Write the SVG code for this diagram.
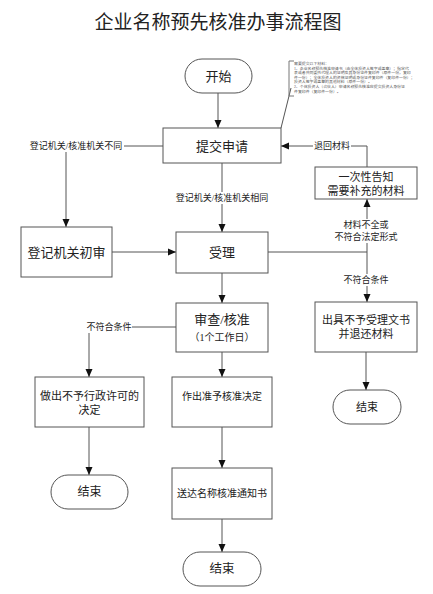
<svg xmlns="http://www.w3.org/2000/svg" width="433" height="594" viewBox="0 0 433 594">
<style>
text{font-family:"Liberation Serif","Noto Sans CJK SC",serif;fill:#222;text-anchor:middle;dominant-baseline:central}
.box{fill:#fff;stroke:#555;stroke-width:1}
.ln{fill:none;stroke:#555;stroke-width:1}
.arr{marker-end:url(#ah)}
.lbl{font-size:9px}
.bg{fill:#fff}
.note{font-size:3.9px;text-anchor:start;fill:#555}
</style>
<defs>
<marker id="ah" markerUnits="userSpaceOnUse" markerWidth="8" markerHeight="8" refX="8" refY="4" orient="auto">
<path d="M0,0.5 L8,4 L0,7.5 z" fill="#111"/>
</marker>
</defs>
<rect width="433" height="594" fill="#fff"/>
<text x="218" y="20" style="font-family:'Noto Sans CJK SC',sans-serif;font-size:19px">企业名称预先核准办事流程图</text>

<g id="connectors">
<path class="ln arr" d="M218,93 V128"/>
<path class="ln" d="M163,146 H66"/>
<path class="ln arr" d="M66,146 V227"/>
<path class="ln arr" d="M222,163 V232"/>
<path class="ln arr" d="M112,252 H176"/>
<path class="ln" d="M268,252 H367"/>
<path class="ln arr" d="M367,252 V199"/>
<path class="ln arr" d="M367,252 V302"/>
<path class="ln arr" d="M367,167 V146 H281"/>
<path class="ln arr" d="M366,352 V390"/>
<path class="ln arr" d="M222,273 V303"/>
<path class="ln" d="M176,327 H89"/>
<path class="ln arr" d="M89,327 V377"/>
<path class="ln arr" d="M222,352 V377"/>
<path class="ln arr" d="M89,427 V475"/>
<path class="ln arr" d="M222,427 V468"/>
<path class="ln arr" d="M222,519 V552"/>
<path class="ln" d="M291,88 L281,128"/>
<rect class="bg" x="28" y="140" width="96" height="12"/>
<text class="lbl" x="76" y="146">登记机关/核准机关不同</text>
<rect class="bg" x="175" y="192" width="95" height="12"/>
<text class="lbl" x="222" y="198">登记机关/核准机关相同</text>
<rect class="bg" x="313" y="140" width="38" height="12"/>
<text class="lbl" x="332" y="146">退回材料</text>
<rect class="bg" x="335" y="219" width="62" height="24"/>
<text class="lbl" x="366" y="225">材料不全或</text>
<text class="lbl" x="366" y="237">不符合法定形式</text>
<rect class="bg" x="343" y="274" width="46" height="12"/>
<text class="lbl" x="366" y="280">不符合条件</text>
<rect class="bg" x="86" y="321" width="46" height="12"/>
<text class="lbl" x="109" y="327">不符合条件</text>
</g>

<g id="note">
<path class="ln" d="M294,61 H289 V96 H294" style="stroke:#777"/>
<text class="note" x="294" y="64">需要提交以下材料：</text>
<text class="note" x="294" y="68.6">1、企业名称预先核准申请书（由全体投资人签字或盖章）；指定代</text>
<text class="note" x="294" y="73.2">表或者共同委托代理人的证明及其身份证件复印件（原件一份，复印</text>
<text class="note" x="294" y="77.8">件一份）；全体投资人的资格证明或身份证件复印件（复印件一份）；</text>
<text class="note" x="294" y="82.4">投资人签字或盖章的其他材料（原件一份）。</text>
<text class="note" x="294" y="87">2、个体投资人（合伙人）申请名称预先核准应提交投资人身份证</text>
<text class="note" x="294" y="91.6">件复印件（复印件一份）。</text>
</g>

<g id="start">
<rect class="box" x="185" y="59" width="67" height="34" rx="17"/>
<text x="218.5" y="76" style="font-size:13px">开始</text>
</g>
<g id="submit">
<rect class="box" x="163" y="128" width="118" height="35"/>
<text x="222" y="146" style="font-size:13px">提交申请</text>
</g>
<g id="notify">
<rect class="box" x="315" y="167" width="102" height="32"/>
<text x="366" y="177" style="font-size:11px">一次性告知</text>
<text x="366" y="191" style="font-size:11px">需要补充的材料</text>
</g>
<g id="reg-review">
<rect class="box" x="21" y="227" width="91" height="50"/>
<text x="66.5" y="252" style="font-size:13px">登记机关初审</text>
</g>
<g id="accept">
<rect class="box" x="176" y="232" width="92" height="41"/>
<text x="222" y="252" style="font-size:13px">受理</text>
</g>
<g id="reject-doc">
<rect class="box" x="315" y="302" width="102" height="50"/>
<text x="366" y="320" style="font-size:11px">出具不予受理文书</text>
<text x="366" y="334" style="font-size:11px">并退还材料</text>
</g>
<g id="end-right">
<rect class="box" x="333" y="390" width="68" height="34" rx="17"/>
<text x="367" y="407" style="font-size:11px">结束</text>
</g>
<g id="examine">
<rect class="box" x="176" y="303" width="92" height="49"/>
<text x="222" y="319" style="font-size:13px">审查/核准</text>
<text x="222" y="337" style="font-size:10px">（1个工作日）</text>
</g>
<g id="deny">
<rect class="box" x="35" y="377" width="109" height="50"/>
<text x="89.5" y="396" style="font-size:11px">做出不予行政许可的</text>
<text x="89.5" y="410" style="font-size:11px">决定</text>
</g>
<g id="approve">
<rect class="box" x="172" y="377" width="100" height="50"/>
<text x="222" y="396" style="font-size:10px">作出准予核准决定</text>
</g>
<g id="end-left">
<rect class="box" x="51" y="475" width="77" height="34" rx="17"/>
<text x="89.5" y="492" style="font-size:12px">结束</text>
</g>
<g id="deliver">
<rect class="box" x="172" y="468" width="100" height="51"/>
<text x="222" y="493" style="font-size:10px">送达名称核准通知书</text>
</g>
<g id="end-bottom">
<rect class="box" x="183" y="552" width="78" height="34" rx="17"/>
<text x="222" y="569" style="font-size:12.5px">结束</text>
</g>
</svg>
